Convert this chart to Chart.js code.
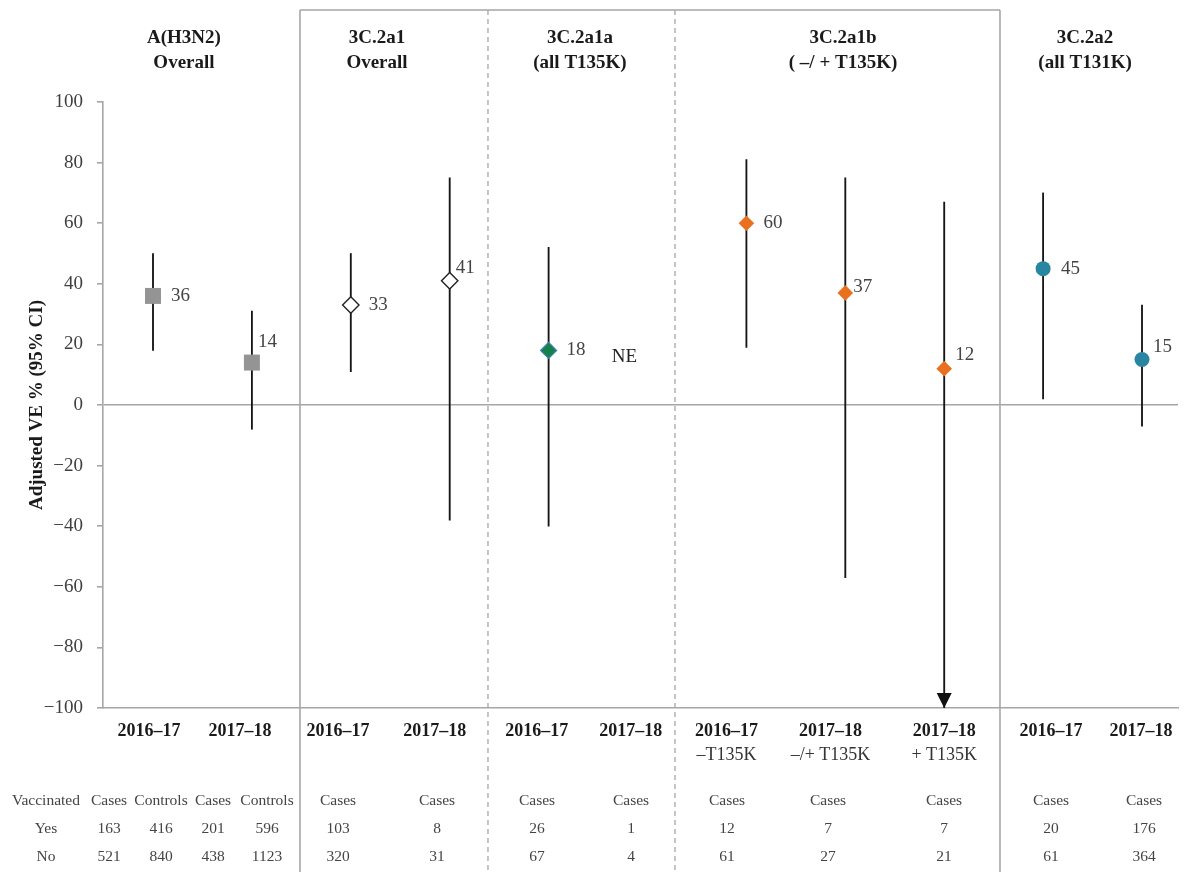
<!DOCTYPE html>
<html><head><meta charset="utf-8">
<script src="https://cdn.jsdelivr.net/npm/chart.js@4.4.1/dist/chart.umd.min.js"></script>
<style>html,body{margin:0;padding:0;background:#fff;overflow:hidden}#wrap{width:1185px;height:872px;position:relative}canvas{display:block}</style>
</head><body><div id="wrap"><canvas id="c" width="1185" height="872"></canvas></div>
<script>
// ---- data ----
const groupTitles = [["A(H3N2)","Overall"],["3C.2a1","Overall"],["3C.2a1a","(all T135K)"],["3C.2a1b","( –/ + T135K)"],["3C.2a2","(all T131K)"]];
const seasons = ["2016–17","2017–18","2016–17","2017–18","2016–17","2017–18","2016–17","2017–18","2017–18","2016–17","2017–18"];
const subLabels = ["","","","","","","–T135K","–/+ T135K","+ T135K","",""];
const ve = [36,14,33,41,18,null,60,37,12,45,15];
const ciLow = [18,-8,11,-38,-40,null,19,-57,-100,2,-7];
const ciHigh = [50,31,50,75,52,null,81,75,67,70,33];
const notEstimated = [false,false,false,false,false,true,false,false,false,false,false];
const truncatedLow = [false,false,false,false,false,false,false,false,true,false,false];
const yTickValues = [-100,-80,-60,-40,-20,0,20,40,60,80,100];
const tableHeader = ["Vaccinated","Cases","Controls","Cases","Controls","Cases","Cases","Cases","Cases","Cases","Cases","Cases","Cases","Cases"];
const tableYes = ["Yes","163","416","201","596","103","8","26","1","12","7","7","20","176"];
const tableNo  = ["No","521","840","438","1123","320","31","67","4","61","27","21","61","364"];

// ---- layout / style (not data) ----
const xPos = seasons.map((s,i)=>i+1);
const labelPos = [0.96,1.88,2.87,3.85,4.88,5.83,6.80,7.85,9.00,10.08,10.99];
const tableCols = [46,109,161,213,267,338,437,537,631,727,828,944,1051,1144];
const headerPos = [1.313,3.265,5.317,7.977,10.424];
const solidSeps = [2.486,9.564];
const dashedSeps = [4.387,6.278];
const labelDx = [18,6,18,6,18,0,17,8,11,18,11];
const labelDy = [0,-21,0,-13,0,0,0,-6,-14,0,-13];
const markerStyle = ['rect','rect','rectRot','rectRot','rectRot','rectRot','rectRot','rectRot','rectRot','circle','circle'];
const markerFill = ['#949494','#949494','#ffffff','#ffffff','#14804c','#ffffff','#e8701f','#e8701f','#e8701f','#2986a0','#2986a0'];
const markerBorder = ['#949494','#949494','#222222','#222222','#3c7fa8','#ffffff','#e8701f','#e8701f','#e8701f','#2986a0','#2986a0'];
const markerBW = [0,0,1.4,1.4,1.2,0,0,0,0,0,0];
const markerR = [11.3,11.3,8.2,8.2,8,0,7.8,7.8,7.8,7.5,7.5];
const SERIF = "'Liberation Serif', 'DejaVu Serif', serif";
const GRAY = '#a6a6a6';

const decor = {
  id:'decor',
  beforeDatasetsDraw(chart){
    const {ctx, scales:{x}} = chart;
    ctx.save();
    ctx.strokeStyle = GRAY; ctx.lineWidth = 1.6;
    const top = 10, bot = 872;
    const l = x.getPixelForValue(solidSeps[0]), r = x.getPixelForValue(solidSeps[1]);
    ctx.beginPath(); ctx.moveTo(l, top); ctx.lineTo(r, top); ctx.stroke();
    solidSeps.forEach(v=>{const p=x.getPixelForValue(v); ctx.beginPath(); ctx.moveTo(p,top); ctx.lineTo(p,bot); ctx.stroke();});
    ctx.setLineDash([5,4]); ctx.lineWidth = 1.3;
    dashedSeps.forEach(v=>{const p=x.getPixelForValue(v); ctx.beginPath(); ctx.moveTo(p,top); ctx.lineTo(p,bot); ctx.stroke();});
    ctx.restore();
  },
  afterDatasetsDraw(chart){
    const {ctx, scales:{x,y}} = chart;
    ctx.save();
    truncatedLow.forEach((t,i)=>{
      if(!t) return;
      const px = x.getPixelForValue(xPos[i]), py = y.getPixelForValue(ciLow[i]);
      ctx.fillStyle = '#111';
      ctx.beginPath(); ctx.moveTo(px, py); ctx.lineTo(px-7.5, py-15); ctx.lineTo(px+7.5, py-15); ctx.closePath(); ctx.fill();
    });
    ctx.font = "19px " + SERIF; ctx.fillStyle = '#444'; ctx.textBaseline = 'middle'; ctx.textAlign = 'left';
    ve.forEach((v,i)=>{
      if(v===null) return;
      ctx.fillText(String(v), x.getPixelForValue(xPos[i]) + labelDx[i], y.getPixelForValue(v) + labelDy[i]);
    });
    notEstimated.forEach((n,i)=>{
      if(!n) return;
      ctx.textAlign='center'; ctx.fillStyle='#222';
      ctx.fillText('NE', x.getPixelForValue(xPos[i]) - 23, y.getPixelForValue(16));
    });
    ctx.restore();
  },
  afterDraw(chart){
    const {ctx, scales:{x}} = chart;
    ctx.save();
    ctx.textAlign='center'; ctx.textBaseline='middle';
    ctx.font = "bold 19px " + SERIF; ctx.fillStyle = '#1a1a1a';
    groupTitles.forEach((g,i)=>{
      const px = x.getPixelForValue(headerPos[i]);
      ctx.fillText(g[0], px, 38); ctx.fillText(g[1], px, 63);
    });
    ctx.font = "18px " + SERIF; ctx.fillStyle = '#333';
    subLabels.forEach((s,i)=>{ if(s) ctx.fillText(s, x.getPixelForValue(labelPos[i]), 755); });
    ctx.font = "15.5px " + SERIF; ctx.fillStyle = '#444';
    [[tableHeader,801],[tableYes,829],[tableNo,857]].forEach(([row,yy])=>{
      row.forEach((t,i)=> ctx.fillText(t, tableCols[i], yy));
    });
    ctx.restore();
  }
};

const chart = new Chart(document.getElementById('c'), {
  data: {
    datasets: [
      {
        type:'scatter', label:'VE', order:0,
        data: ve.map((v,i)=>({x:xPos[i], y:v})),
        pointStyle: markerStyle, backgroundColor: markerFill, borderColor: markerBorder,
        borderWidth: markerBW, pointRadius: markerR, pointHoverRadius: markerR
      },
      {
        type:'bar', label:'95% CI', order:1,
        data: ciLow.map((l,i)=>({x:xPos[i], y: l===null ? null : [l, ciHigh[i]]})),
        backgroundColor:'#161616', borderWidth:0, barThickness:1.2
      }
    ]
  },
  options: {
    responsive:false, animation:false,
    layout:{autoPadding:false, padding:{top:102,right:7,left:0,bottom:0}},
    plugins:{legend:{display:false}, tooltip:{enabled:false}},
    scales:{
      x:{
        type:'linear', min:0.4944, max:11.364, offset:false,
        grid:{display:false, drawTicks:false, offset:false},
        border:{display:true, color:GRAY, width:1.6},
        afterBuildTicks: s => { s.ticks = labelPos.map(v=>({value:v})); },
        afterFit: s => { s.height = 164; s.paddingLeft = 0; s.paddingRight = 0; },
        ticks:{
          autoSkip:false, maxRotation:0, padding:13,
          font:{family:SERIF, size:18, weight:'bold'}, color:'#1a1a1a',
          callback:(v,i)=> seasons[i]
        }
      },
      y:{
        type:'linear', min:-100, max:100,
        afterBuildTicks: s => { s.ticks = yTickValues.map(v=>({value:v})); },
        afterFit: s => { s.width = 103; },
        border:{display:true, color:GRAY, width:1.6},
        grid:{
          drawOnChartArea:true, drawTicks:true, tickLength:6, tickColor:GRAY, tickWidth:1.6, lineWidth:1.6,
          color: c => (c.tick && c.tick.value===0) ? GRAY : 'rgba(0,0,0,0)'
        },
        ticks:{
          padding:14, font:{family:SERIF, size:19}, color:'#404040',
          callback: v => v < 0 ? '−' + Math.abs(v) : String(v)
        },
        title:{display:true, text:'Adjusted VE % (95% CI)', font:{family:SERIF, size:19, weight:'bold'}, color:'#1a1a1a', padding:{top:26,bottom:0}}
      }
    }
  },
  plugins:[decor]
});
</script>
</body></html>
